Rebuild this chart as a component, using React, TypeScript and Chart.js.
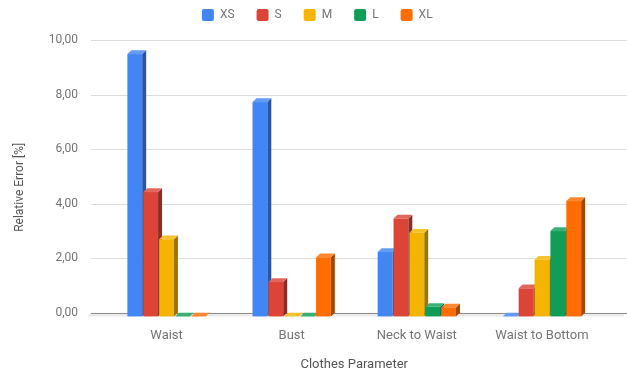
import React, { useEffect, useRef } from "react";
import { Chart, registerables } from "chart.js";

Chart.register(...registerables);

const categories = ["Waist", "Bust", "Neck to Waist", "Waist to Bottom"];
const seriesNames = ["XS", "S", "M", "L", "XL"];
const xsValues = [9.62, 7.86, 2.36, 0];
const sValues = [4.56, 1.26, 3.59, 1.03];
const mValues = [2.83, 0, 3.07, 2.08];
const lValues = [0, 0, 0.35, 3.13];
const xlValues = [0, 2.17, 0.33, 4.23];
const yTicks = [0, 2, 4, 6, 8, 10];
const seriesColors = ["#4285F4", "#DB4437", "#F4B400", "#0F9D58", "#FF6D01"];
const xTitle = "Clothes Parameter";
const yTitle = "Relative Error [%]";

const DX = 4;
const DY = 3.7;

function shade(hex: string, f: number): string {
  const n = parseInt(hex.slice(1), 16);
  let r = (n >> 16) & 255;
  let g = (n >> 8) & 255;
  let b = n & 255;
  if (f > 0) {
    r += (255 - r) * f;
    g += (255 - g) * f;
    b += (255 - b) * f;
  } else {
    r *= 1 + f;
    g *= 1 + f;
    b *= 1 + f;
  }
  return `rgb(${Math.round(r)},${Math.round(g)},${Math.round(b)})`;
}

const threeDPlugin = {
  id: "threeD",
  beforeDatasetsDraw(chart: any) {
    const { ctx, chartArea, scales } = chart;
    const y = scales.y;
    const backLeft = chartArea.left - 13;
    const backRight = chart.width;
    const y0 = y.getPixelForValue(0);
    ctx.save();
    // floor
    ctx.fillStyle = "#ebebeb";
    ctx.beginPath();
    ctx.moveTo(backLeft, y0);
    ctx.lineTo(backRight, y0);
    ctx.lineTo(backRight - DX, y0 + DY);
    ctx.lineTo(backLeft - DX, y0 + DY);
    ctx.closePath();
    ctx.fill();
    // back-wall gridlines
    yTicks.forEach((t) => {
      const py = Math.round(y.getPixelForValue(t)) + 0.5;
      ctx.strokeStyle = t === 0 ? "#8c8c8c" : "#dddddd";
      ctx.lineWidth = 1;
      ctx.beginPath();
      ctx.moveTo(backLeft, py);
      ctx.lineTo(backRight, py);
      ctx.stroke();
    });
    // 3D bars
    chart.data.datasets.forEach((ds: any, i: number) => {
      const meta = chart.getDatasetMeta(i);
      const base = seriesColors[i];
      const dark = shade(base, -0.35);
      const light = shade(base, 0.18);
      meta.data.forEach((el: any) => {
        const xL = el.x - el.width / 2;
        const xR = el.x + el.width / 2;
        const yT = el.y + DY;
        const yB = el.base + DY;
        // side
        ctx.fillStyle = dark;
        ctx.beginPath();
        ctx.moveTo(xR, yT);
        ctx.lineTo(xR + DX, yT - DY);
        ctx.lineTo(xR + DX, yB - DY);
        ctx.lineTo(xR, yB);
        ctx.closePath();
        ctx.fill();
        // top
        ctx.fillStyle = light;
        ctx.beginPath();
        ctx.moveTo(xL, yT);
        ctx.lineTo(xR, yT);
        ctx.lineTo(xR + DX, yT - DY);
        ctx.lineTo(xL + DX, yT - DY);
        ctx.closePath();
        ctx.fill();
        // front
        ctx.fillStyle = base;
        ctx.fillRect(xL, yT, xR - xL, yB - yT);
      });
    });
    ctx.restore();
    return false;
  },
  afterDraw(chart: any) {
    const { ctx, chartArea } = chart;
    ctx.save();
    ctx.translate(20, (chartArea.top + chartArea.bottom) / 2 + 11);
    ctx.rotate(-Math.PI / 2);
    ctx.textAlign = "center";
    ctx.textBaseline = "middle";
    ctx.font = "12px Roboto";
    ctx.fillStyle = "#555555";
    ctx.fillText(yTitle, 0, 0);
    ctx.restore();
  },
};

export default function App() {
  const ref = useRef<HTMLCanvasElement>(null);
  useEffect(() => {
    document.body.style.margin = "0";
    Chart.defaults.font.family = "Roboto, sans-serif";
    Chart.defaults.font.size = 12;
    const allValues = [xsValues, sValues, mValues, lValues, xlValues];
    const chart = new Chart(ref.current!, {
      type: "bar",
      data: {
        labels: categories,
        datasets: seriesNames.map((name, i) => ({
          label: name,
          data: allValues[i],
          backgroundColor: seriesColors[i],
          borderWidth: 0,
          barPercentage: 0.93,
          categoryPercentage: 0.635,
        })),
      },
      options: {
        animation: false,
        responsive: true,
        maintainAspectRatio: false,
        events: [],
        layout: { padding: { top: -13, left: 30, right: 22.5, bottom: 0 } },
        plugins: {
          tooltip: { enabled: false },
          legend: {
            position: "top",
            labels: {
              boxWidth: 12,
              boxHeight: 12,
              padding: 22,
              color: "#757575",
              font: { size: 12 },
              useBorderRadius: true,
              borderRadius: 2,
            },
          },
          subtitle: {
            display: true,
            text: "",
            position: "top",
            weight: 500,
            padding: { top: 0, bottom: 8 },
            font: { size: 1, lineHeight: 1 },
          },
        },
        scales: {
          x: {
            grid: { display: false, drawTicks: false },
            border: { display: false },
            ticks: { color: "#757575", padding: 15, font: { size: 13 } },
            title: {
              display: true,
              text: xTitle,
              color: "#555555",
              font: { size: 13 },
              padding: { top: 0, bottom: 3 },
            },
            afterFit: (s: any) => {
              s.height = 63.3;
            },
          },
          y: {
            min: 0,
            max: 10,
            grid: { display: false, drawTicks: false },
            border: { display: false },
            ticks: {
              stepSize: 2,
              padding: 26,
              color: "#757575",
              font: { size: 12 },
              callback: (v: any) => Number(v).toFixed(2).replace(".", ","),
            },
            afterFit: (s: any) => {
              s.width = 74;
            },
          },
        },
      },
      plugins: [threeDPlugin],
    });
    return () => chart.destroy();
  }, []);
  return (
    <div style={{ position: "relative", width: 627, height: 376 }}>
      <canvas ref={ref} />
    </div>
  );
}
